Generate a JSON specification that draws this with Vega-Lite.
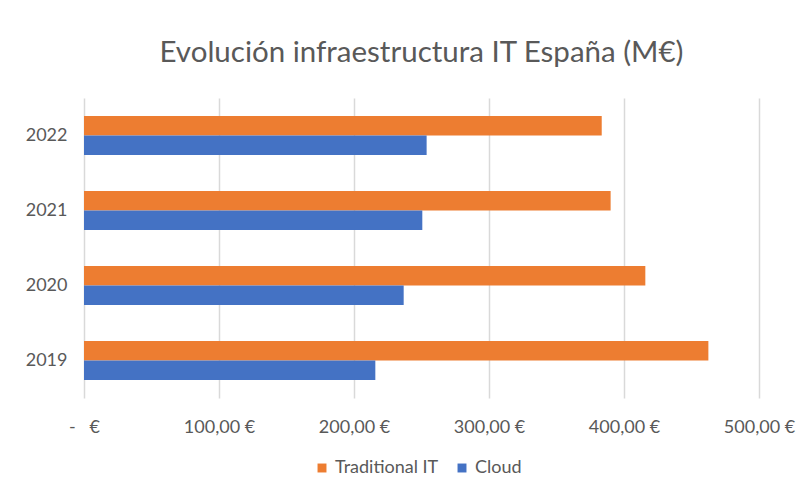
{
  "$schema": "https://vega.github.io/schema/vega-lite/v6.json",
  "autosize": {"type": "none"},
  "width": 675,
  "height": 300,
  "padding": {"left": 84, "top": 98, "right": 52, "bottom": 97},
  "background": "white",
  "title": {
    "text": "Evolución infraestructura IT España (M€)",
    "font": "Lato",
    "fontSize": 29.5,
    "fontWeight": "normal",
    "color": "#595959",
    "anchor": "middle",
    "offset": 30
  },
  "data": {
    "values": [
      {"year": "2022", "series": "Traditional IT", "value": 383.5},
      {"year": "2022", "series": "Cloud", "value": 253.8},
      {"year": "2021", "series": "Traditional IT", "value": 390.1},
      {"year": "2021", "series": "Cloud", "value": 250.6},
      {"year": "2020", "series": "Traditional IT", "value": 415.8},
      {"year": "2020", "series": "Cloud", "value": 236.8},
      {"year": "2019", "series": "Traditional IT", "value": 462.5},
      {"year": "2019", "series": "Cloud", "value": 215.8}
    ]
  },
  "mark": {"type": "bar"},
  "encoding": {
    "y": {
      "field": "year",
      "type": "nominal",
      "sort": ["2022", "2021", "2020", "2019"],
      "scale": {"paddingInner": 0.48, "paddingOuter": 0.24},
      "axis": {
        "title": null,
        "domain": false,
        "ticks": false,
        "grid": false,
        "labelFont": "Lato",
        "labelFontSize": 18,
        "labelColor": "#595959",
        "labelPadding": 17
      }
    },
    "yOffset": {
      "field": "series",
      "type": "nominal",
      "sort": ["Traditional IT", "Cloud"],
      "scale": {"paddingInner": 0, "paddingOuter": 0}
    },
    "x": {
      "field": "value",
      "type": "quantitative",
      "scale": {"domain": [0, 500], "nice": false},
      "axis": {
        "title": null,
        "values": [0, 100, 200, 300, 400, 500],
        "labelExpr": "datum.value == 0 ? '-\u00a0\u00a0\u00a0€' : replace(format(datum.value, '.2f'), '.', ',') + '\u00a0€'",
        "domain": false,
        "ticks": false,
        "grid": true,
        "gridColor": "#D9D9D9",
        "gridWidth": 1.5,
        "labelFont": "Lato",
        "labelFontSize": 18,
        "labelColor": "#595959",
        "labelPadding": 20,
        "labelFlush": false
      }
    },
    "color": {
      "field": "series",
      "type": "nominal",
      "scale": {"domain": ["Traditional IT", "Cloud"], "range": ["#ED7D31", "#4472C4"]},
      "legend": {
        "title": null,
        "orient": "none",
        "legendX": 229,
        "legendY": 361,
        "direction": "horizontal",
        "symbolType": "square",
        "symbolSize": 80,
        "symbolStrokeWidth": 0,
        "labelFont": "Lato",
        "labelFontSize": 18,
        "labelColor": "#595959",
        "columnPadding": 14
      }
    }
  },
  "config": {"view": {"stroke": null}}
}
